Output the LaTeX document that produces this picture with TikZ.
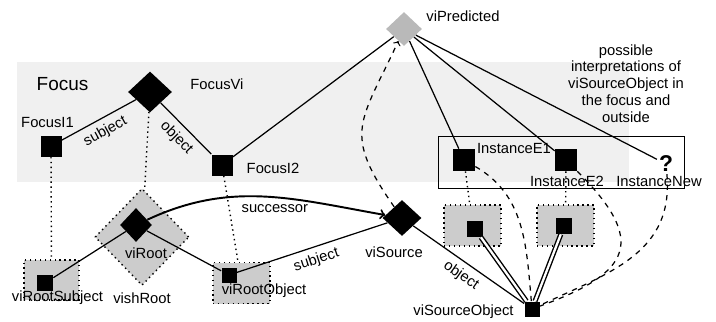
\documentclass[tikz,border=0pt]{standalone}
\usepackage{fontspec}
\setmainfont{Liberation Sans}
\usetikzlibrary{arrows,shapes.geometric}

\begin{document}
\begin{tikzpicture}[font=\fontsize{8.4}{9.6}\selectfont]
                      \tikzstyle{inst}=[rectangle,fill=black,inner sep=0pt,minimum size=0.44cm]
                      \tikzstyle{smallinst}=[rectangle,fill=black,inner sep=0pt,minimum size=0.32cm]
                      \tikzstyle{vi}=[diamond,fill=black,inner sep=0pt,minimum width=0.78cm,minimum height=0.72cm]
                      \tikzstyle{sh}=[rectangle,fill=gray!40,draw=black,dotted,line width=0.8pt,minimum width=1.14cm,minimum height=0.82cm]
                      \tikzstyle{lnk}=[line width=0.7pt]
                      \tikzstyle{proj}=[dotted,line width=0.8pt]
                      \tikzstyle{alt}=[dashed,line width=0.7pt]
                      \tikzstyle{same}=[double,double distance=1.3pt,line width=0.8pt]
                      \useasboundingbox (0,0) rectangle (14.32,-6.44);
                      \fill[gray!12] (0.34,-1.24) rectangle (12.58,-3.64);
                      \node[font=\fontsize{10.8}{12}\selectfont] (focus) at (1.25,-1.68) {Focus};
                      \node[align=center] (note) at (12.52,-1.67) {possible\\interpretations of\\viSourceObject in\\the focus and\\outside};
                      \node[draw,line width=0.4pt,minimum width=4.92cm,minimum height=1.04cm] (instbox) at (11.22,-3.24) {};
                      \node[vi,minimum width=0.88cm,minimum height=0.82cm] (focusvi) at (3.0,-1.84) {};
                      \node (focusvilbl) at (4.34,-1.68) {FocusVi};
                      \node[inst,minimum size=0.42cm] (focusi1) at (1.02,-2.92) {};
                      \node (focusi1lbl) at (0.95,-2.44) {FocusI1};
                      \node[inst,minimum size=0.42cm] (focusi2) at (4.44,-3.3) {};
                      \node (focusi2lbl) at (5.46,-3.36) {FocusI2};
                      \node[vi,fill=gray!55,minimum width=0.72cm,minimum height=0.68cm] (vipred) at (8.08,-0.58) {};
                      \node (vipredlbl) at (9.26,-0.32) {viPredicted};
                      \node[diamond,fill=gray!40,draw=black,dotted,line width=0.8pt,inner sep=0pt,minimum width=1.88cm,minimum height=1.94cm] (vishroot) at (2.84,-4.74) {};
                      \node[vi,minimum width=0.64cm,minimum height=0.68cm] (viroot) at (2.72,-4.5) {};
                      \node (virootlbl) at (2.92,-5.06) {viRoot};
                      \node (vishrootlbl) at (2.84,-5.96) {vishRoot};
                      \node[sh,minimum width=1.1cm,minimum height=0.8cm] (subjbox) at (1.03,-5.6) {};
                      \node[smallinst] (virootsubj) at (0.9,-5.66) {};
                      \node (virootsubjlbl) at (1.15,-5.96) {viRootSubject};
                      \node[sh] (objbox) at (4.83,-5.66) {};
                      \node[smallinst,minimum size=0.3cm] (virootobj) at (4.58,-5.5) {};
                      \node (virootobjlbl) at (5.28,-5.82) {viRootObject};
                      \node[vi] (visource) at (8.04,-4.36) {};
                      \node (visourcelbl) at (7.88,-5.04) {viSource};
                      \node[smallinst,minimum size=0.3cm] (visobj) at (10.64,-6.18) {};
                      \node (visobjlbl) at (9.27,-6.24) {viSourceObject};
                      \node[inst] (inste1) at (9.28,-3.2) {};
                      \node (inste1lbl) at (10.28,-2.96) {InstanceE1};
                      \node[inst] (inste2) at (11.32,-3.2) {};
                      \node (inste2lbl) at (11.34,-3.62) {InstanceE2};
                      \node[font=\fontsize{13}{13}\selectfont\bfseries,inner sep=1pt] (instnew) at (13.32,-3.28) {?};
                      \node (instnewlbl) at (13.18,-3.62) {InstanceNew};
                      \node[sh] (e1box) at (9.45,-4.51) {};
                      \node[smallinst] (e1sq) at (9.5,-4.58) {};
                      \node[sh] (e2box) at (11.31,-4.51) {};
                      \node[smallinst] (e2sq) at (11.28,-4.52) {};
                      \draw[lnk] (focusi1) -- node[below,sloped] {subject} (focusvi);
                      \draw[lnk] (focusvi) -- node[below,sloped] {object} (focusi2);
                      \draw[lnk] (focusi2) -- (vipred);
                      \draw[lnk] (vipred) -- (inste1);
                      \draw[lnk] (vipred) -- (inste2);
                      \draw[lnk] (vipred) -- (instnew);
                      \draw[proj] (focusi1) -- (subjbox);
                      \draw[proj] (focusvi) -- (vishroot);
                      \draw[proj] (focusi2) -- (objbox);
                      \draw[proj] (inste1) -- (e1box);
                      \draw[proj] (inste2) -- (e2box);
                      \draw[lnk] (viroot) -- (virootsubj);
                      \draw[lnk] (viroot) -- (virootobj);
                      \draw[lnk,line width=1.1pt,->] (viroot) to[out=25,in=170] node[below,pos=0.55] {successor} (visource);
                      \draw[lnk] (virootobj) -- node[below,sloped] {subject} (visource);
                      \draw[lnk] (visource) -- node[below,sloped] {object} (visobj);
                      \draw[same] (e1sq) -- (visobj);
                      \draw[same] (e2sq) -- (visobj);
                      \draw[alt] (inste1) to[out=-30,in=95] (visobj);
                      \draw[alt] (inste2) to[out=-45,in=20,looseness=1.8] (visobj);
                      \draw[alt] (instnew) to[out=-85,in=25,looseness=1.1] (visobj);
                      \draw[alt,->] (visource) to[out=125,in=-115,looseness=1.4] (vipred);
                  \end{tikzpicture}
\end{document}
